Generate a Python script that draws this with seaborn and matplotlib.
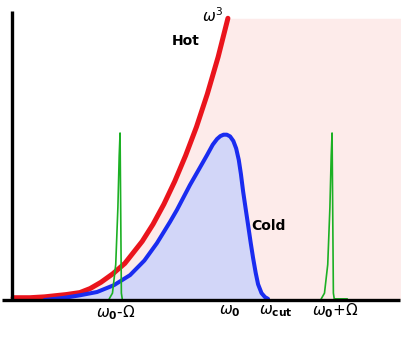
import numpy as np
import pandas as pd
import matplotlib
matplotlib.use('Agg')
import matplotlib.pyplot as plt
import seaborn as sns

# frequency axis in units of omega_0
hot_w = [0.005, 0.083, 0.15, 0.2, 0.25, 0.313, 0.36, 0.41, 0.465, 0.52, 0.6, 0.65,
         0.7, 0.75, 0.8, 0.85, 0.9, 0.95, 0.995]
hot_s = [0.008, 0.008, 0.011, 0.015, 0.019, 0.026, 0.04, 0.062, 0.092, 0.128, 0.205, 0.265,
         0.335, 0.415, 0.505, 0.605, 0.72, 0.85, 0.985]

cold_w = [0.15, 0.235, 0.31, 0.392, 0.47, 0.544, 0.61, 0.668, 0.728, 0.76, 0.82, 0.86,
          0.899, 0.925, 0.945, 0.96, 0.975, 0.99, 1.005, 1.02, 1.033, 1.045, 1.055, 1.065,
          1.077, 1.088, 1.1, 1.111, 1.123, 1.134, 1.15, 1.166, 1.18]
cold_s = [0.0, 0.007, 0.016, 0.028, 0.052, 0.087, 0.138, 0.199, 0.273, 0.315, 0.402, 0.455,
          0.507, 0.543, 0.563, 0.573, 0.578, 0.578, 0.572, 0.556, 0.53, 0.49, 0.44, 0.38,
          0.318, 0.262, 0.2, 0.147, 0.095, 0.055, 0.024, 0.01, 0.004]

# sideband peaks
peak_off = [-0.05, -0.035, -0.02, -0.01, -0.004, 0.0, 0.003, 0.006, 0.01]
peak_val = [0.0, 0.02, 0.12, 0.32, 0.5, 0.58, 0.3, 0.02, 0.0]
peak_pos = [0.498, 1.475]

w_edge = 1.79

sns.set_style('white')
fig = plt.figure(figsize=(4.15, 3.37), dpi=100)
ax = fig.add_axes([0, 0, 1, 1])

# pink region under omega^3 and beyond
pink_w = [0.0] + hot_w + [w_edge]
pink_s = [0.0] + hot_s + [hot_s[-1]]
ax.fill_between(pink_w, 0, pink_s, color='#fdebea', lw=0, zorder=0)
ax.fill_between(cold_w, 0, cold_s, color='#d2d6f8', lw=0, zorder=1)

hot = pd.DataFrame({'w': hot_w, 's': hot_s})
cold = pd.DataFrame({'w': cold_w, 's': cold_s})
sns.lineplot(data=hot, x='w', y='s', ax=ax, color='#ea141c', lw=3.6, sort=False, zorder=3)
sns.lineplot(data=cold, x='w', y='s', ax=ax, color='#1a2cf0', lw=2.9, sort=False, zorder=3)

for i, p in enumerate(peak_pos):
    gw = [p + o for o in peak_off]
    gs = list(peak_val)
    if i == 1:
        gw = gw + [p + 0.07]
        gs = gs + [0.0]
    sns.lineplot(x=gw, y=np.array(gs) + 0.004, ax=ax, color='#1cb024', lw=1.2,
                 sort=False, zorder=4)

# axes lines
ax.plot([-0.046, w_edge], [0, 0], color='black', lw=2.4, zorder=5, solid_capstyle='butt')
ax.plot([0.0, 0.0], [0, 1.01], color='black', lw=2.4, zorder=5, solid_capstyle='butt')

ax.set_xlim(-12 / 217, 403 / 217)
ax.set_ylim(-37 / 286, 300 / 286)
ax.axis('off')

fs = 10
kw = dict(ha='center', va='center', color='black')
ax.text(0.925, 0.995, r'$\omega^3$', fontsize=fs + 1, **kw)
ax.text(0.8, 0.905, 'Hot', fontsize=fs, fontweight='bold', **kw)
ax.text(1.18, 0.26, 'Cold', fontsize=fs, fontweight='bold', **kw)
ax.text(0.478, -0.045, r'$\omega_\mathbf{0}$-$\Omega$', fontsize=fs + 1, **kw)
ax.text(1.005, -0.04, r'$\omega_\mathbf{0}$', fontsize=fs + 1, **kw)
ax.text(1.215, -0.04, r'$\omega_\mathbf{cut}$', fontsize=fs + 1, **kw)
ax.text(1.49, -0.036, r'$\omega_\mathbf{0}$+$\Omega$', fontsize=fs + 1, **kw)

fig.savefig('out.png', dpi=100)
